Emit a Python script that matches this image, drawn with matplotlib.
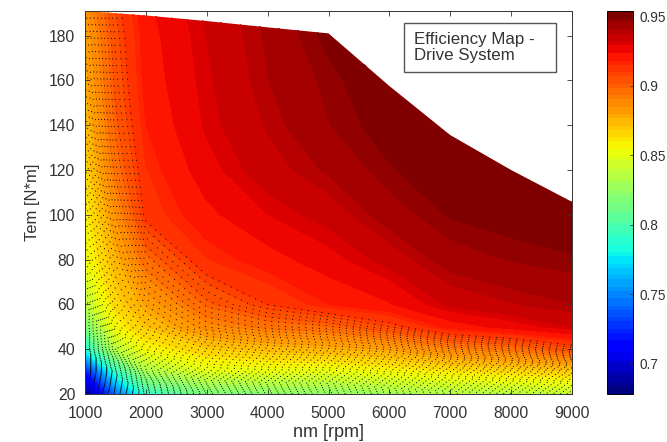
import numpy as np
import matplotlib
matplotlib.use('Agg')
import matplotlib.pyplot as plt
from matplotlib.patches import Polygon, Rectangle

plt.rcParams['font.family'] = ['Liberation Sans', 'DejaVu Sans']
text_color = '#333333'

# speed / torque grid
speed = [1000, 1500, 2000, 3000, 4000, 5000, 6000, 7000, 8000, 9000]
torque = [20, 30, 40, 50, 60, 80, 100, 120, 140, 160, 180, 191]
speed_ticks = [1000, 2000, 3000, 4000, 5000, 6000, 7000, 8000, 9000]

# efficiency, one row per torque
eff_20 = [.680, .740, .790, .815, .820, .822, .828, .832, .835, .838]
eff_30 = [.715, .790, .830, .848, .850, .850, .855, .860, .864, .868]
eff_40 = [.785, .835, .855, .868, .873, .876, .880, .890, .895, .905]
eff_50 = [.815, .855, .870, .888, .895, .898, .907, .920, .926, .932]
eff_60 = [.835, .865, .880, .900, .910, .918, .923, .933, .937, .940]
eff_80 = [.852, .875, .897, .915, .921, .927, .934, .943, .946, .948]
eff_100 = [.857, .885, .912, .922, .929, .934, .943, .949, .951, .952]
eff_120 = [.865, .895, .915, .927, .935, .941, .948, .952, .952, .953]
eff_140 = [.872, .900, .918, .930, .938, .9455, .951, .953, .953, .953]
eff_160 = [.877, .903, .920, .931, .940, .947, .953, .953, .953, .953]
eff_180 = [.880, .905, .921, .932, .941, .950, .953, .953, .953, .953]
eff_191 = [.885, .907, .922, .933, .942, .951, .953, .953, .953, .953]

# full load curve
limit_speed = [1000, 2000, 3000, 4000, 5000, 6000, 7000, 8000, 9000]
limit_torque = [191, 189, 186.5, 183.7, 181, 157.5, 135.6, 120, 105.8]

eff = np.array([eff_20, eff_30, eff_40, eff_50, eff_60, eff_80, eff_100,
                eff_120, eff_140, eff_160, eff_180, eff_191])

fig = plt.figure(figsize=(6.67, 4.42), dpi=100)
ax = fig.add_axes([85 / 667, 48 / 442, 487 / 667, 383 / 442])
cax = fig.add_axes([607 / 667, 48 / 442, 26 / 667, 383 / 442])

vmin, vmax = 0.678, 0.954
levels = np.linspace(vmin, vmax, 101)
cmap = plt.get_cmap('jet', 64)

cs = ax.contourf(speed, torque, eff, levels=levels, cmap=cmap, vmin=vmin, vmax=vmax)
cs.set_edgecolor('face')
cs.set_linewidth(0.3)
lines = ax.contour(speed, torque, eff, levels=levels[levels < 0.912], colors='black',
                   linewidths=0.7, linestyles=[(0, (1, 6))])

# everything above the full load curve stays white
outline = list(zip(limit_speed, limit_torque)) + [(9000, 20), (1000, 20)]
clip = Polygon(outline, closed=True, transform=ax.transData)
cs.set_clip_path(clip)
lines.set_clip_path(clip)

ax.set_xlim(1000, 9000)
ax.set_ylim(20, 191)
ax.set_xticks(speed_ticks)
ax.set_yticks(range(20, 181, 20))
ax.tick_params(direction='in', top=True, right=True, length=3.5, width=0.6,
               labelsize=11.3, colors=text_color)
ax.tick_params(axis='x', pad=9)
ax.tick_params(axis='y', pad=7)
ax.set_xlabel('nm [rpm]', fontsize=13, color=text_color, labelpad=2)
ax.set_ylabel('Tem [N*m]', fontsize=12, color=text_color, labelpad=6)
for spine in ax.spines.values():
    spine.set_linewidth(0.7)
    spine.set_color('#333333')

# annotation box
box_x, box_y, box_w, box_h = 404 / 667, (442 - 72) / 442, 152 / 667, 49 / 442
fig.add_artist(Rectangle((box_x, box_y), box_w, box_h, transform=fig.transFigure,
                         facecolor='white', edgecolor='#555555', linewidth=1, zorder=5))
fig.text(box_x + 10 / 667, box_y + box_h / 2, 'Efficiency Map -\nDrive System', fontsize=12.2,
         color=text_color, va='center', ha='left', linespacing=1.15, zorder=6)

cb = fig.colorbar(cs, cax=cax, ticks=[0.7, 0.75, 0.8, 0.85, 0.9, 0.95])
cb.ax.set_yticklabels(['0.7', '0.75', '0.8', '0.85', '0.9', '0.95'])
cb.ax.tick_params(direction='in', length=2.5, width=0.6, labelsize=9.8, colors=text_color, pad=5)
cb.outline.set_linewidth(0.7)

fig.savefig('out.png', dpi=100)
